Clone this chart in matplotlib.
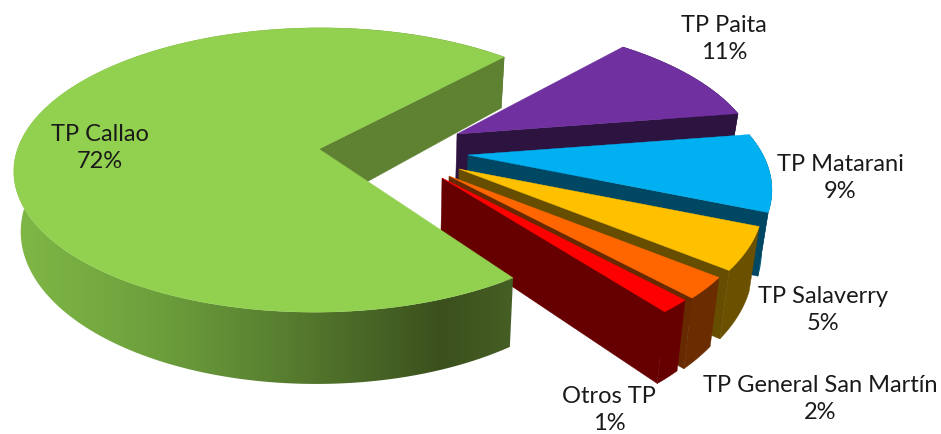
import numpy as np
import matplotlib
matplotlib.use("Agg")
import matplotlib.pyplot as plt
from matplotlib.colors import LinearSegmentedColormap
from matplotlib.patches import Polygon

# ---- data ----
labels = ["TP Paita", "TP Matarani", "TP Salaverry", "TP General San Martín", "Otros TP", "TP Callao"]
shown_percent = [11, 9, 5, 2, 1, 72]
shares = [11.0, 8.7, 4.6, 2.3, 1.4, 72.0]

# ---- style ----
top_colors = ["#7030A0", "#00B0F0", "#FFC000", "#FF6600", "#FF0000", "#92D050"]
face_colors = ["#2D1340", "#004763", "#664D00", "#662900", "#660000", "#5E8232"]
side_colors = ["#2D1340", "#005F80", "#6B5000", "#6B2C00", "#660000", None]
apexes = [(457, 134), (468, 155), (459, 169), (449, 176), (442, 178), (319, 149)]
label_xy = [(724, 39), (840, 178), (823, 310), (820, 399), (609, 410), (100, 148)]

W, H = 941, 434
RX, RY, K = 295.0, 137.0, 0.24
START_DEG = 48.5
CX, CY, CRX, CRY, CSH, CTILT = 317.5, 170.0, 303.5, 142.0, -12.0, 7.0
C_START, C_GAIN = 49.8, 0.9954

plt.rcParams["font.family"] = ["Lato", "DejaVu Sans"]
fig = plt.figure(figsize=(W / 100, H / 100), dpi=100)
ax = fig.add_axes([0, 0, 1, 1])
ax.set_xlim(0, W)
ax.set_ylim(H, 0)
ax.axis("off")


def drop(p):
    """Lower rim of the disc for points on the upper rim."""
    p = np.atleast_2d(p)
    pull = np.where(p[:, 0] < 400, 0.018, 0.028)
    return np.column_stack([p[:, 0] + (400 - p[:, 0]) * pull,
                            p[:, 1] + 51 + 0.0814 * (p[:, 1] - 57)])


def rim_right(apex, deg):
    t = np.radians(deg)
    u, v = np.cos(t), np.sin(t)
    w = 1 + K * v
    return np.column_stack([apex[0] + RX * u / w, apex[1] - RY * v / w])


def rim_callao(deg):
    t = np.radians(deg)
    c, s = np.cos(t), np.sin(t)
    return np.column_stack([CX + CRX * c + CSH * s, CY - CRY * s - CTILT * c])


def poly(pts, color, z):
    ax.fill(pts[:, 0], pts[:, 1], facecolor=color, edgecolor=color, linewidth=0.3, zorder=z)


total = sum(shares)
theta = START_DEG
z = 1
for i in range(5):
    span = 360.0 * shares[i] / total
    deg = np.linspace(theta, theta - span, 60)
    arc = rim_right(apexes[i], deg)
    apex = np.array([apexes[i]], float)
    low_arc = drop(arc)
    low_apex = drop(apex)
    poly(np.vstack([arc, low_arc[::-1]]), side_colors[i], z)
    poly(np.vstack([apex, arc[-1:], low_arc[-1:], low_apex]), face_colors[i], z + 0.1)
    poly(np.vstack([apex, arc]), top_colors[i], z + 0.2)
    theta -= span
    z += 1

# Callao: the large slice, with a shaded outer wall
span = 360.0 * shares[5] / total * C_GAIN
deg = np.linspace(C_START, C_START + span, 400)
arc = rim_callao(deg)
low_arc = drop(arc)
apex = np.array([apexes[5]], float)

shade = LinearSegmentedColormap.from_list(
    "wall", [(0.0, "#80B846"), (0.3, "#6C9E3C"), (0.57, "#557A2E"), (0.86, "#3B501D"), (1.0, "#465F24")])
xmin, xmax = 14, 513
img = ax.imshow(np.linspace(0, 1, 512)[None, :], cmap=shade, vmin=0, vmax=1, aspect="auto",
                extent=(xmin, xmax, 434, 0), zorder=z, interpolation="bilinear")
wall = Polygon(np.vstack([arc, low_arc[::-1]]), closed=True, transform=ax.transData,
               facecolor="none", edgecolor="none")
ax.add_patch(wall)
img.set_clip_path(wall)
ax.set_xlim(0, W)
ax.set_ylim(H, 0)

poly(np.vstack([apex, arc[:1], drop(arc[:1]), drop(apex)]), face_colors[5], z + 0.1)
poly(np.vstack([apex, arc]), top_colors[5], z + 0.2)

for name, pct, (x, y) in zip(labels, shown_percent, label_xy):
    ax.text(x, y, f"{name}\n{pct}%", ha="center", va="center", fontsize=17,
            color="#1a1a1a", linespacing=1.4, zorder=20)

fig.savefig("out.png", dpi=100, facecolor="white")
